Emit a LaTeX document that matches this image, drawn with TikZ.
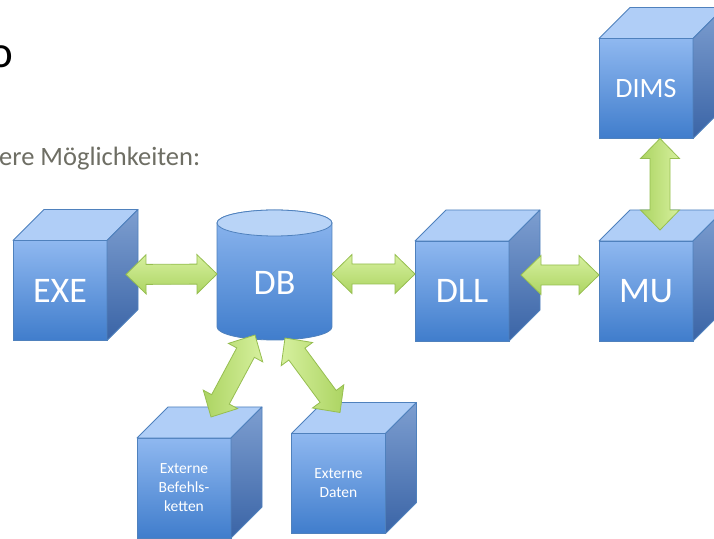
\documentclass[tikz,border=0pt]{standalone}
\usepackage{fontspec}
\setmainfont{Carlito}
\usetikzlibrary{calc}
\definecolor{cubeedge}{RGB}{79,129,189}
\definecolor{cubetopc}{RGB}{176,206,247}
\definecolor{frontlight}{RGB}{143,184,240}
\definecolor{frontdark}{RGB}{64,125,204}
\definecolor{sidelight}{RGB}{125,158,208}
\definecolor{sidedark}{RGB}{58,100,166}
\definecolor{arrowlight}{RGB}{214,240,158}
\definecolor{arrowdark}{RGB}{172,212,98}
\definecolor{arrowedge}{RGB}{150,190,80}
\definecolor{subtext}{RGB}{110,110,100}
\definecolor{dbtop}{RGB}{185,212,247}
\tikzset{
  cubefront/.style={draw=cubeedge, line width=0.8pt, top color=frontlight, bottom color=frontdark,
    minimum width=94pt, minimum height=100pt, inner sep=0pt, outer sep=0pt, text=white, align=center},
  cubetopface/.style={draw=cubeedge, line width=0.8pt, fill=cubetopc, line join=round},
  cubeside/.style={draw=cubeedge, line width=0.8pt, top color=sidelight, bottom color=sidedark, line join=round},
  bigtxt/.style={font=\fontsize{36}{40}\selectfont},
  midtxt/.style={font=\fontsize{28}{32}\selectfont},
  smalltxt/.style={font=\fontsize{15.5}{19}\selectfont},
  greenarrow/.style={draw=arrowedge, line width=0.8pt, top color=arrowlight, bottom color=arrowdark, line join=miter},
  dbbody/.style={draw=cubeedge, line width=0.8pt, top color=frontlight, bottom color=frontdark},
  dbcap/.style={draw=cubeedge, line width=0.8pt, fill=dbtop},
}
\newcommand\mycube[5]{%
  \node[cubefront,#4] (#1) at (#2,#3) {#5};
  \path[cubetopface] (#1.north west) -- ++(31,31) -- ++(94,0) -- (#1.north east) -- cycle;
  \path[cubeside] (#1.north east) -- ++(31,31) -- ++(0,-100) -- (#1.south east) -- cycle;
}
\newcommand\dblarrow[3][]{%
  \path[greenarrow,#1] (#2)
    -- ($(#2)!20pt!(#3)!19.5pt!90:(#3)$)
    -- ($(#2)!20pt!(#3)!10pt!90:(#3)$)
    -- ($(#3)!20pt!(#2)!10pt!-90:(#2)$)
    -- ($(#3)!20pt!(#2)!19.5pt!-90:(#2)$)
    -- (#3)
    -- ($(#3)!20pt!(#2)!19.5pt!90:(#2)$)
    -- ($(#3)!20pt!(#2)!10pt!90:(#2)$)
    -- ($(#2)!20pt!(#3)!10pt!-90:(#3)$)
    -- ($(#2)!20pt!(#3)!19.5pt!-90:(#3)$)
    -- cycle;
}
\begin{document}
\begin{tikzpicture}[x=1pt,y=1pt]
\useasboundingbox (0,0) rectangle (714,538);
\fill[white] (0,0) rectangle (714,538);

% texts
\node[font=\fontsize{45}{54}\selectfont, anchor=base, inner sep=0pt] (title) at (1,470) {o};
\node[font=\fontsize{26.5}{30}\selectfont, text=subtext, anchor=base west, inner sep=0pt] (sub) at (-1,372) {ere Möglichkeiten:};

% cubes
\mycube{exe}{60}{247.5}{bigtxt}{EXE}
\mycube{dll}{462}{247}{bigtxt}{DLL}
\mycube{mu}{646}{247}{bigtxt}{MU}
\mycube{dims}{646}{449.5}{midtxt}{DIMS}
\mycube{befehl}{184}{50}{smalltxt}{Externe\\Befehls-\\ketten}
\mycube{daten}{338.5}{54.5}{smalltxt}{Externe\\Daten}

% database cylinder
\path[dbbody] (217,315) -- (217,211)
  arc[start angle=180, end angle=360, x radius=57.5, y radius=13]
  -- (332,315)
  arc[start angle=0, end angle=180, x radius=57.5, y radius=13] -- cycle;
\path[dbcap] (274.5,315) ellipse[x radius=57.5, y radius=13];
\node[minimum width=115pt, minimum height=130pt, inner sep=0pt, outer sep=0pt] (db) at (274.5,263) {};
\node[bigtxt, text=white] (dblabel) at (274.5,255) {DB};

% arrow end points
\coordinate (e1) at ($(exe.east)+(19,16)$);
\coordinate (d1) at ($(db.west)+(0,1)$);
\coordinate (d2) at ($(db.east)+(0,1)$);
\coordinate (l1) at ($(dll.west)+(0,17)$);
\coordinate (l2) at ($(dll.east)+(12,16)$);
\coordinate (m1) at ($(mu.west)+(0,16)$);
\coordinate (m2) at ($(mu.north)+(14,11)$);
\coordinate (s1) at ($(dims.south)+(14,0)$);
\coordinate (d3) at ($(db.south)+(-19.5,5)$);
\coordinate (b1) at ($(befehl.north)+(27,21)$);
\coordinate (d4) at ($(db.south)+(10.5,2)$);
\coordinate (x1) at ($(daten.north)+(1.5,21)$);

% arrows
\dblarrow{e1}{d1}
\dblarrow{d2}{l1}
\dblarrow{l2}{m1}
\dblarrow[left color=arrowdark, right color=arrowlight]{s1}{m2}
\dblarrow[left color=arrowdark, right color=arrowlight]{b1}{d3}
\dblarrow[left color=arrowlight, right color=arrowdark]{d4}{x1}
\end{tikzpicture}
\end{document}
